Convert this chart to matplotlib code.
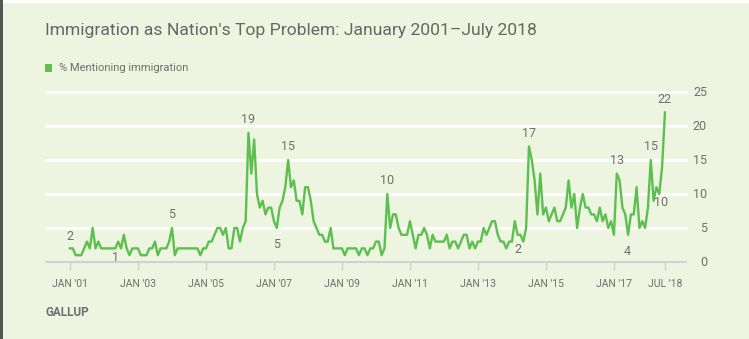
import numpy as np
import matplotlib
matplotlib.use("Agg")
import matplotlib.pyplot as plt
from matplotlib.patches import Rectangle

plt.rcParams['font.family'] = ['Liberation Sans Narrow', 'Roboto', 'DejaVu Sans']

# % mentioning immigration, monthly Jan 2001 - Jul 2018
y2001 = [2, 2, 1, 1, 1, 2, 3, 2, 5, 2, 3, 2]
y2002 = [2, 2, 2, 2, 2, 3, 2, 4, 2, 1, 2, 2]
y2003 = [2, 1, 1, 1, 2, 2, 3, 1, 2, 2, 2, 3]
y2004 = [5, 1, 2, 2, 2, 2, 2, 2, 2, 2, 1, 2]
y2005 = [2, 3, 3, 4, 5, 5, 4, 5, 2, 2, 5, 5]
y2006 = [3, 5, 6, 19, 13, 18, 10, 8, 9, 7, 8, 8]
y2007 = [6, 5, 8, 9, 11, 15, 11, 12, 9, 9, 7, 11]
y2008 = [11, 9, 6, 5, 4, 4, 3, 3, 5, 2, 2, 2]
y2009 = [2, 1, 2, 2, 2, 2, 1, 2, 2, 1, 2, 2]
y2010 = [3, 3, 1, 2, 10, 5, 7, 7, 5, 4, 4, 4]
y2011 = [6, 4, 2, 4, 4, 5, 4, 2, 4, 3, 3, 3]
y2012 = [3, 4, 2, 3, 3, 2, 3, 4, 4, 2, 3, 2]
y2013 = [3, 3, 5, 4, 5, 6, 6, 4, 3, 3, 2, 3]
y2014 = [3, 6, 4, 4, 3, 5, 17, 15, 12, 7, 13, 7]
y2015 = [8, 6, 7, 8, 6, 6, 7, 8, 12, 8, 10, 5]
y2016 = [8, 10, 8, 8, 7, 7, 6, 8, 6, 7, 5, 6]
y2017 = [4, 13, 12, 8, 7, 4, 7, 7, 11, 5, 6, 5]
y2018 = [8, 15, 9, 11, 10, 14, 22]

values = (y2001 + y2002 + y2003 + y2004 + y2005 + y2006 + y2007 + y2008 + y2009 +
          y2010 + y2011 + y2012 + y2013 + y2014 + y2015 + y2016 + y2017 + y2018)
months = np.arange(len(values))

tick_months = [0, 24, 48, 72, 96, 120, 144, 168, 192, 210]
tick_labels = ["JAN '01", "JAN '03", "JAN '05", "JAN '07", "JAN '09",
               "JAN '11", "JAN '13", "JAN '15", "JAN '17", "JUL '18"]
y_ticks = [0, 5, 10, 15, 20, 25]

# point labels: month, height of text, text
lab_m = [0, 16.2, 36, 62.9, 77, 73, 111.8, 162, 158.2, 193, 196.7, 205.1, 208.5, 209.8]
lab_y = [3.8, 0.7, 7.0, 21.0, 17.0, 2.6, 12.0, 18.9, 1.8, 15.0, 1.5, 17.0, 8.7, 23.9]
lab_t = ['2', '1', '5', '19', '15', '5', '10', '17', '2', '13', '4', '15', '10', '22']

bg = '#edf4e0'
green = '#5dbf4f'
grey = '#6f6f6f'

fig = plt.figure(figsize=(7.49, 3.39), dpi=100)
fig.patch.set_facecolor('white')
fig.patches.append(Rectangle((3 / 749, 0), 1, 1 - 3 / 339, transform=fig.transFigure,
                             facecolor=bg, edgecolor='none', zorder=-10))
fig.patches.append(Rectangle((0, 0), 3 / 749, 1, transform=fig.transFigure,
                             facecolor='#555555', edgecolor='none', zorder=-9))

ax = fig.add_axes([46 / 749, 1 - 262 / 339, 640 / 749, 170 / 339])
ax.set_facecolor('none')
ax.set_xlim(-24 / 2.833, 616 / 2.833)
ax.set_ylim(0, 25)

for g in y_ticks[1:]:
    ax.axhline(g, color='white', lw=2, zorder=1, clip_on=False)
ax.axhline(0, color='#d0d3cc', lw=1.5, zorder=1, clip_on=False)

ax.plot(months, values, color=green, lw=1.7, zorder=3)

for m, yv, t in zip(lab_m, lab_y, lab_t):
    ax.text(m, yv, t, ha='center', va='center', fontsize=9, color=grey)

for s in ax.spines.values():
    s.set_visible(False)

ax.set_xticks(tick_months)
ax.set_xticklabels(tick_labels, fontsize=7.5, color=grey)
ax.tick_params(axis='x', length=6, width=1, color='#d0d3cc', pad=6)

ax.set_yticks([])
for v in y_ticks:
    ax.text(1 + 21 / 640, v, str(v), transform=ax.get_yaxis_transform(),
            ha='right', va='center', fontsize=9, color=grey)

fig.text(45 / 749, 1 - 30 / 339, "Immigration as Nation's Top Problem: January 2001\u2013July 2018",
         fontsize=12.6, color='#666666', va='center', ha='left')
fig.patches.append(Rectangle((45 / 749, 1 - 72 / 339), 7 / 749, 8 / 339, transform=fig.transFigure,
                             facecolor=green, edgecolor='none'))
fig.text(59 / 749, 1 - 68 / 339, "% Mentioning immigration", fontsize=8, color=grey,
         va='center', ha='left')
fig.text(45 / 749, 1 - 312 / 339, "GALLUP", fontsize=8.5, color=grey, va='center', ha='left',
         fontweight='bold')

fig.savefig('out.png', dpi=100, facecolor=fig.get_facecolor())
